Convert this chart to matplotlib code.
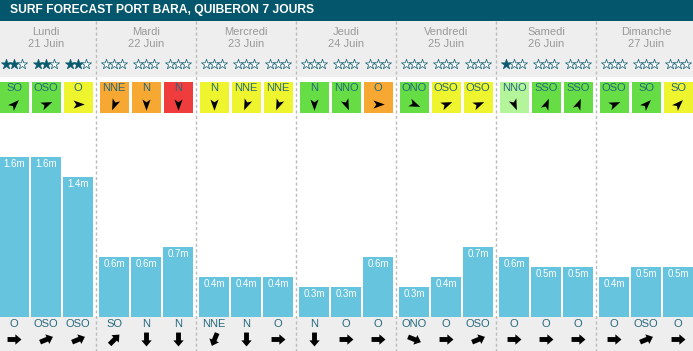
"""Surf forecast Port Bara - 7 jours, nagemaakt met matplotlib."""
import numpy as np
import matplotlib
matplotlib.use("Agg")
import matplotlib.pyplot as plt
from matplotlib.path import Path
from matplotlib.markers import MarkerStyle
from matplotlib.transforms import Affine2D
from matplotlib.patches import Rectangle

plt.rcParams['font.family'] = ['Liberation Sans', 'DejaVu Sans']

# ================================================
# DATA
# ================================================
titel = "SURF FORECAST PORT BARA, QUIBERON 7 JOURS"
jours = ["Lundi", "Mardi", "Mercredi", "Jeudi", "Vendredi", "Samedi", "Dimanche"]
dates = ["21 Juin", "22 Juin", "23 Juin", "24 Juin", "25 Juin", "26 Juin", "27 Juin"]

etoiles = [2, 2, 2, 0, 0, 0, 0, 0, 0, 0, 0, 0, 0, 0, 0, 1, 0, 0, 0, 0, 0]

vent_dir = ["SO", "OSO", "O", "NNE", "N", "N", "N", "NNE", "NNE",
            "N", "NNO", "O", "ONO", "OSO", "OSO", "NNO", "SSO", "SSO",
            "OSO", "SO", "SO"]
vent_qualite = ["off", "off", "cross", "on", "on", "fort", "cross", "cross", "cross",
                "off", "off", "on", "off", "cross", "cross", "faible", "off", "off",
                "off", "off", "cross"]

hauteur = [1.6, 1.6, 1.4, 0.6, 0.6, 0.7, 0.4, 0.4, 0.4,
           0.3, 0.3, 0.6, 0.3, 0.4, 0.7, 0.6, 0.5, 0.5, 0.4, 0.5, 0.5]

houle_dir = ["O", "OSO", "OSO", "SO", "N", "N", "NNE", "N", "O",
             "N", "O", "O", "ONO", "O", "OSO", "O", "O", "O", "O", "OSO", "O"]

# ================================================
# STIJL
# ================================================
W, H = 693, 351
TITEL_KLEUR = "#03566b"
GRIJS_BG = "#eeeeee"
TEKST_GRIJS = "#999999"
TEAL = "#25697e"
STER = "#0b5a6f"
BALK = "#66c4df"
KLEUREN = {"off": "#66dd44", "cross": "#eef42e", "on": "#f6a832",
           "fort": "#ef3c3c", "faible": "#b4f59c"}

KOMPAS = {"N": 0, "NNE": 22.5, "NE": 45, "ENE": 67.5, "E": 90, "ESE": 112.5,
          "SE": 135, "SSE": 157.5, "S": 180, "SSO": 202.5, "SO": 225,
          "OSO": 247.5, "O": 270, "ONO": 292.5, "NO": 315, "NNO": 337.5}

pijl_punt = Path([(1, 0), (-0.8, 0.65), (-0.35, 0), (-0.8, -0.65), (1, 0)],
                 [Path.MOVETO, Path.LINETO, Path.LINETO, Path.LINETO, Path.CLOSEPOLY])
pijl_blok = Path([(-0.8, -0.28), (0.1, -0.28), (0.1, -0.6), (0.8, 0), (0.1, 0.6),
                  (0.1, 0.28), (-0.8, 0.28), (-0.8, -0.28)],
                 [Path.MOVETO] + [Path.LINETO] * 6 + [Path.CLOSEPOLY])


def hoek(richting):
    # schermhoek (graden, tegen de klok in) waar de pijl naartoe wijst
    return -90 - KOMPAS[richting]


def marker(pad, richting):
    return MarkerStyle(pad, transform=Affine2D().rotate_deg(hoek(richting)))


# ================================================
# FIGUUR
# ================================================
fig = plt.figure(figsize=(W / 100, H / 100), dpi=100)
ax = fig.add_axes([0, 0, 1, 1])
ax.set_xlim(0, W)
ax.set_ylim(H, 0)
ax.axis('off')

n = len(hauteur)
centra = np.array([100 * (i // 3) + 14 + 32 * (i % 3) for i in range(n)])
dag_centra = np.array([100 * d + 46 for d in range(len(jours))])

# achtergronden
ax.add_patch(Rectangle((0, 0), W, 21, color=TITEL_KLEUR, lw=0))
ax.add_patch(Rectangle((0, 21), W, 56, color=GRIJS_BG, lw=0))
ax.add_patch(Rectangle((0, 317), W, 34, color=GRIJS_BG, lw=0))

ax.text(10, 10.5, titel, color="white", fontsize=8.7, fontweight="bold",
        va="center", ha="left")

for d in range(1, len(jours)):
    ax.plot([100 * d - 4, 100 * d - 4], [21, H], color="#bbbbbb", lw=1,
            dashes=(2.2, 1.8))

for x, jour, date in zip(dag_centra, jours, dates):
    ax.text(x, 32, jour, color=TEKST_GRIJS, fontsize=8, ha="center", va="center")
    ax.text(x, 44, date, color=TEKST_GRIJS, fontsize=8, ha="center", va="center")

# sterren
for x, e in zip(centra, etoiles):
    for k in range(3):
        gevuld = k < e
        ax.scatter(x - 8 + 8 * k, 63.5, marker="*", s=58,
                   facecolor=STER if gevuld else "white",
                   edgecolor=STER, linewidth=0.5, zorder=3)

# wind vakjes
for x, r, q in zip(centra, vent_dir, vent_qualite):
    ax.add_patch(Rectangle((x - 14.5, 82), 29, 31, color=KLEUREN[q], lw=0))
    ax.text(x, 88, r, color=TEAL, fontsize=8, ha="center", va="center")
    ax.plot(x, 104, marker=marker(pijl_punt, r), ms=9, color="black",
            markeredgewidth=0, linestyle="none")

# deining onderaan
for x, r in zip(centra, houle_dir):
    ax.text(x, 324, r, color=TEAL, fontsize=8, ha="center", va="center")
    ax.plot(x, 338.5, marker=marker(pijl_blok, r), ms=10, color="black",
            markeredgewidth=0, linestyle="none")

# balken (golfhoogte in meter)
bax = fig.add_axes([0, 34 / H, 1, 240 / H])
bax.set_xlim(0, W)
bax.set_ylim(0, 2.4)
bax.axis('off')
bax.bar(centra, hauteur, width=30, color=BALK, linewidth=0)
for x, h in zip(centra, hauteur):
    bax.annotate(f"{h}m", (x, h), xytext=(0, -5.2), textcoords="offset points",
                 color="white", fontsize=7, ha="center", va="center")

fig.savefig("out.png", dpi=100)
